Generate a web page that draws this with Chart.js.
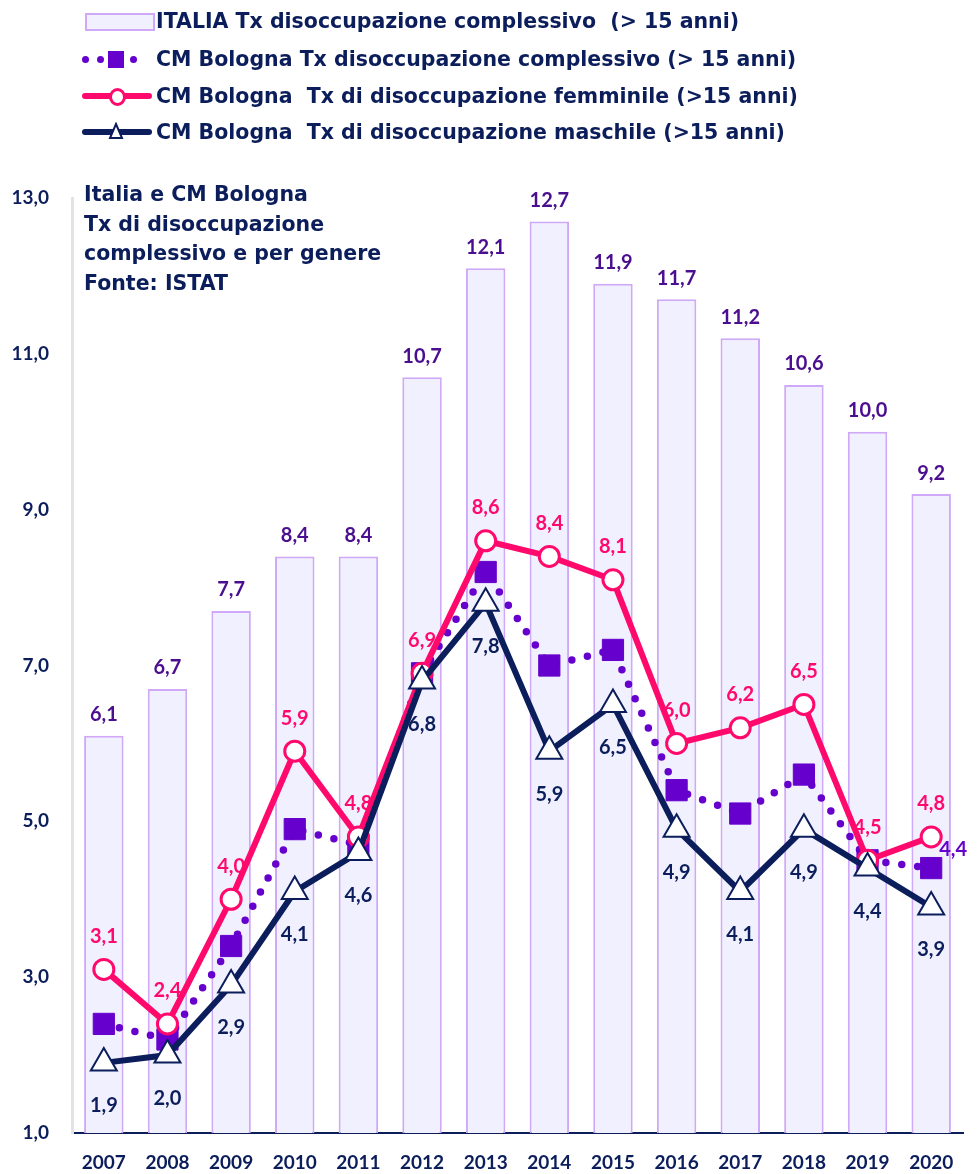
<!DOCTYPE html>
<html>
<head>
<meta charset="utf-8">
<script src="https://cdn.jsdelivr.net/npm/chart.js@4.4.1/dist/chart.umd.min.js"></script>
<style>
  body { margin: 0; background: #fff; font-family: "DejaVu Sans", sans-serif; }
  #wrap { position: relative; width: 980px; height: 1174px; }
  #grafico { position: absolute; left: 0; top: 0; }
  .leg { position: absolute; left: 0; height: 30px; display: flex; align-items: center; font-weight: bold; font-size: 20.5px; color: #0b1d5a; white-space: pre; }
  .sym { position: relative; width: 156px; height: 30px; flex: none; }
  .note { position: absolute; left: 84px; top: 180px; font-weight: bold; font-size: 20.5px; line-height: 29.5px; color: #0b1d5a; }
</style>
</head>
<body>
<div id="wrap">
  <canvas id="grafico" width="980" height="1174"></canvas>
  <div class="leg" style="top:6px"><div class="sym"><div style="position:absolute;left:85px;top:7px;width:66px;height:14px;background:#f1f0ff;border:2px solid #cfa8f7"></div></div>ITALIA Tx disoccupazione complessivo  (&gt; 15 anni)</div>
  <div class="leg" style="top:44px"><div class="sym">
    <div style="position:absolute;left:82px;top:12px;width:7px;height:7px;border-radius:50%;background:#6600cc"></div>
    <div style="position:absolute;left:97px;top:12px;width:7px;height:7px;border-radius:50%;background:#6600cc"></div>
    <div style="position:absolute;left:108px;top:7px;width:16px;height:17px;background:#6600cc"></div>
    <div style="position:absolute;left:130px;top:12px;width:7px;height:7px;border-radius:50%;background:#6600cc"></div>
  </div>CM Bologna Tx disoccupazione complessivo (&gt; 15 anni)</div>
  <div class="leg" style="top:81px"><div class="sym">
    <div style="position:absolute;left:82px;top:12px;width:70px;height:6px;border-radius:3px;background:#ff0a6c"></div>
    <div style="position:absolute;left:109px;top:7px;width:11px;height:12px;border-radius:50%;background:#fff;border:3px solid #ff0a6c"></div>
  </div>CM Bologna  Tx di disoccupazione femminile (&gt;15 anni)</div>
  <div class="leg" style="top:117px"><div class="sym">
    <div style="position:absolute;left:82px;top:12px;width:70px;height:6px;border-radius:3px;background:#0b1d5a"></div>
    <svg style="position:absolute;left:108px;top:5px" width="16" height="18"><polygon points="8,2 14,16 2,16" fill="#fff" stroke="#0b1d5a" stroke-width="2"/></svg>
  </div>CM Bologna  Tx di disoccupazione maschile (&gt;15 anni)</div>
  <div class="note">Italia e CM Bologna<br>Tx di disoccupazione<br>complessivo e per genere<br>Fonte: ISTAT</div>
</div>
<script>
const anni = ['2007', '2008', '2009', '2010', '2011', '2012', '2013', '2014', '2015', '2016', '2017', '2018', '2019', '2020'];
const italiaTot = [6.1, 6.7, 7.7, 8.4, 8.4, 10.7, 12.1, 12.7, 11.9, 11.7, 11.2, 10.6, 10.0, 9.2];
const bolognaTot = [2.4, 2.2, 3.4, 4.9, 4.7, 6.9, 8.2, 7.0, 7.2, 5.4, 5.1, 5.6, 4.5, 4.4];
const bolognaF = [3.1, 2.4, 4.0, 5.9, 4.8, 6.9, 8.6, 8.4, 8.1, 6.0, 6.2, 6.5, 4.5, 4.8];
const bolognaM = [1.9, 2.0, 2.9, 4.1, 4.6, 6.8, 7.8, 5.9, 6.5, 4.9, 4.1, 4.9, 4.4, 3.9];
const yTicks = [1, 3, 5, 7, 9, 11, 13];

const navy = '#0b1d5a';
const fontNum = 'Lato';

function fmt(v) {
    return v.toFixed(1).replace('.', ',');
}

// etichette dei valori, disegnate a mano (niente plugin datalabels)
const etichette = {
    id: 'etichette',
    afterDatasetsDraw(chart) {
        const ctx = chart.ctx;
        ctx.save();
        ctx.textAlign = 'center';
        ctx.textBaseline = 'middle';
        chart.data.datasets.forEach((ds, i) => {
            const meta = chart.getDatasetMeta(i);
            meta.data.forEach((el, j) => {
                const v = ds.data[j];
                let x = el.x, y = el.y;
                if (ds.lab === 'sopraBar') {
                    y -= 21;
                } else if (ds.lab === 'sopra') {
                    y -= 33;
                } else if (ds.lab === 'sotto') {
                    y += 43;
                } else if (ds.lab === 'ultimo') {
                    if (j !== ds.data.length - 1) return;
                    x += 22; y -= 19;
                } else {
                    return;
                }
                ctx.font = 'bold 20px ' + fontNum;
                ctx.fillStyle = ds.labColor;
                ctx.fillText(fmt(v), x, y);
            });
        });
        ctx.restore();
    }
};

const data = {
    labels: anni,
    datasets: [
        {
            type: 'line',
            label: 'CM Bologna Tx di disoccupazione maschile (>15 anni)',
            data: bolognaM,
            borderColor: navy,
            borderWidth: 6,
            pointStyle: 'triangle',
            pointRadius: 15,
            pointBackgroundColor: '#fff',
            pointBorderColor: navy,
            pointBorderWidth: 2,
            order: 1,
            lab: 'sotto',
            labColor: navy
        },
        {
            type: 'line',
            label: 'CM Bologna Tx di disoccupazione femminile (>15 anni)',
            data: bolognaF,
            borderColor: '#ff0a6c',
            borderWidth: 6,
            pointStyle: 'circle',
            pointRadius: 10,
            pointBackgroundColor: '#fff',
            pointBorderColor: '#ff0a6c',
            pointBorderWidth: 3,
            order: 2,
            lab: 'sopra',
            labColor: '#ff0a6c'
        },
        {
            type: 'line',
            label: 'CM Bologna Tx disoccupazione complessivo (> 15 anni)',
            data: bolognaTot,
            borderColor: '#6600cc',
            borderWidth: 7.5,
            borderDash: [0, 16],
            borderCapStyle: 'round',
            pointStyle: 'rect',
            pointRadius: 15,
            pointBackgroundColor: '#6600cc',
            pointBorderColor: '#6600cc',
            pointBorderWidth: 1,
            order: 3,
            lab: 'ultimo',
            labColor: '#6600cc'
        },
        {
            type: 'bar',
            label: 'ITALIA Tx disoccupazione complessivo (> 15 anni)',
            data: italiaTot,
            backgroundColor: '#f1f0ff',
            borderColor: '#cfa8f7',
            borderWidth: 2,
            barPercentage: 0.62,
            categoryPercentage: 1,
            order: 10,
            lab: 'sopraBar',
            labColor: '#4a0e8f'
        }
    ]
};

new Chart(document.getElementById('grafico'), {
    type: 'bar',
    data,
    options: {
        responsive: false,
        animation: false,
        devicePixelRatio: 1,
        layout: { padding: { top: 198, right: 3, left: 0, bottom: 0 } },
        plugins: { legend: { display: false }, tooltip: { enabled: false } },
        scales: {
            x: {
                grid: { display: false, drawTicks: false },
                border: { display: true, color: navy, width: 2 },
                ticks: { color: navy, font: { family: fontNum, weight: 'bold', size: 19 }, padding: 18 },
                afterFit(s) { s.height = 41; }
            },
            y: {
                min: 1,
                max: 13,
                afterBuildTicks(s) { s.ticks = yTicks.map(v => ({ value: v })); },
                grid: { display: false, drawTicks: false },
                border: { display: true, color: '#e3e3e3', width: 3 },
                ticks: { color: navy, font: { family: fontNum, weight: 'bold', size: 19 }, padding: 23, callback: v => fmt(v) },
                afterFit(s) { s.width = 72; }
            }
        }
    },
    plugins: [etichette]
});
</script>
</body>
</html>
